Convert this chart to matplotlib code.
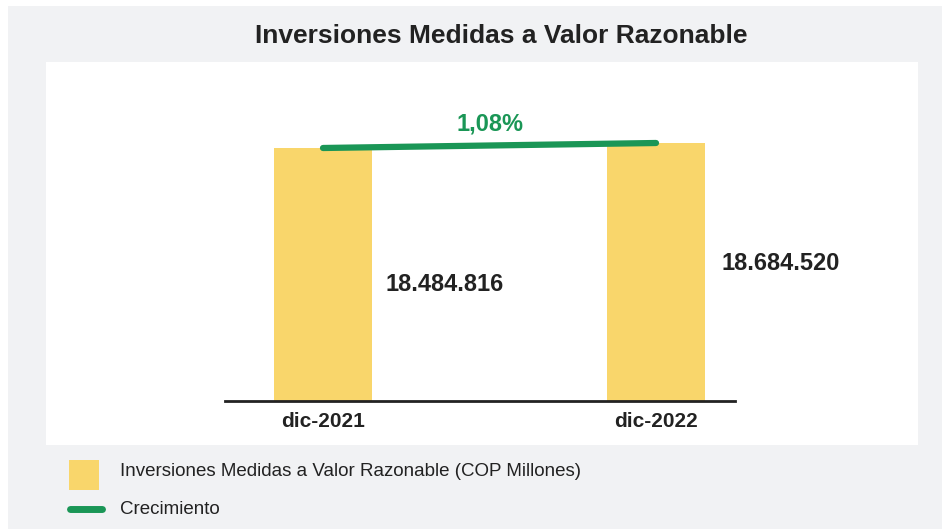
import numpy as np
import matplotlib
matplotlib.use('Agg')
import matplotlib.pyplot as plt
from matplotlib.patches import Rectangle
from matplotlib.lines import Line2D

plt.rcParams['font.family'] = ['Liberation Sans', 'DejaVu Sans']

# data
categories = ['dic-2021', 'dic-2022']
values = [18484816, 18684520]
value_labels = ['18.484.816', '18.684.520']
growth_label = '1,08%'
title = 'Inversiones Medidas a Valor Razonable'
legend_labels = ['Inversiones Medidas a Valor Razonable (COP Millones)', 'Crecimiento']

YELLOW = '#f9d66b'
GREEN = '#1a9656'
BG = '#f1f2f4'
TXT = '#222222'

W, H = 942, 530
fig = plt.figure(figsize=(W / 100, H / 100), dpi=100)
fig.patch.set_facecolor('white')


def fx(px):
    return px / W


def fy(py):
    return 1 - py / H


# gray outer panel and white plot panel
fig.patches.append(Rectangle((fx(8), fy(529)), fx(942) - fx(8), fy(6) - fy(529),
                             transform=fig.transFigure, facecolor=BG, edgecolor='none', zorder=-2))
fig.patches.append(Rectangle((fx(46), fy(445)), fx(918) - fx(46), fy(62) - fy(445),
                             transform=fig.transFigure, facecolor='white', edgecolor='none', zorder=-1))

fig.text(fx(501), fy(36), title, ha='center', va='center', fontsize=19,
         fontweight='bold', color=TXT)

# axes: baseline at y=401px, spans x 225..735px
ax = fig.add_axes([fx(225), fy(401), fx(735) - fx(225), fy(80) - fy(401)])
ax.set_zorder(1)
ax.set_facecolor('none')
x = np.arange(len(categories))
ybot = 8.38e6
per_px = 39940
ax.set_xlim(-98 / 333, 1 + 79 / 333)
ax.set_ylim(ybot, ybot + 321 * per_px)

ax.bar(x, values, width=98 / 333, color=YELLOW, zorder=2)
ax.plot(x, values, color=GREEN, lw=4.5, solid_capstyle='round', zorder=3)
ax.annotate(growth_label, (0.5, np.mean(values)), xytext=(0, 7), textcoords='offset points',
            ha='center', va='bottom', fontsize=17, fontweight='bold', color=GREEN)

# label offsets from bar top, in pixels
label_offsets = [(122, -136), (125, -121)]
for i, (v, lab) in enumerate(zip(values, value_labels)):
    dx, dy = label_offsets[i]
    ax.annotate(lab, (x[i], v), xytext=(dx * 0.72, dy * 0.72),
                textcoords='offset points', ha='center', va='center',
                fontsize=17, fontweight='bold', color=TXT)

for s in ['top', 'right', 'left']:
    ax.spines[s].set_visible(False)
ax.spines['bottom'].set_linewidth(2)
ax.spines['bottom'].set_color(TXT)
ax.set_yticks([])
ax.set_xticks(x)
ax.set_xticklabels(categories, fontsize=15, fontweight='bold', color=TXT)
ax.tick_params(axis='x', length=0, pad=8)

# legend
fig.patches.append(Rectangle((fx(69), fy(490)), fx(99) - fx(69), fy(460) - fy(490),
                             transform=fig.transFigure, facecolor=YELLOW, edgecolor='none'))
fig.lines.append(Line2D([fx(70), fx(102)], [fy(509), fy(509)], transform=fig.transFigure,
                        color=GREEN, lw=5, solid_capstyle='round'))
fig.text(fx(120), fy(472), legend_labels[0], ha='left', va='center', fontsize=13.5, color=TXT)
fig.text(fx(120), fy(509), legend_labels[1], ha='left', va='center', fontsize=13.5, color=TXT)

fig.savefig('out.png', dpi=100, facecolor=fig.get_facecolor())
